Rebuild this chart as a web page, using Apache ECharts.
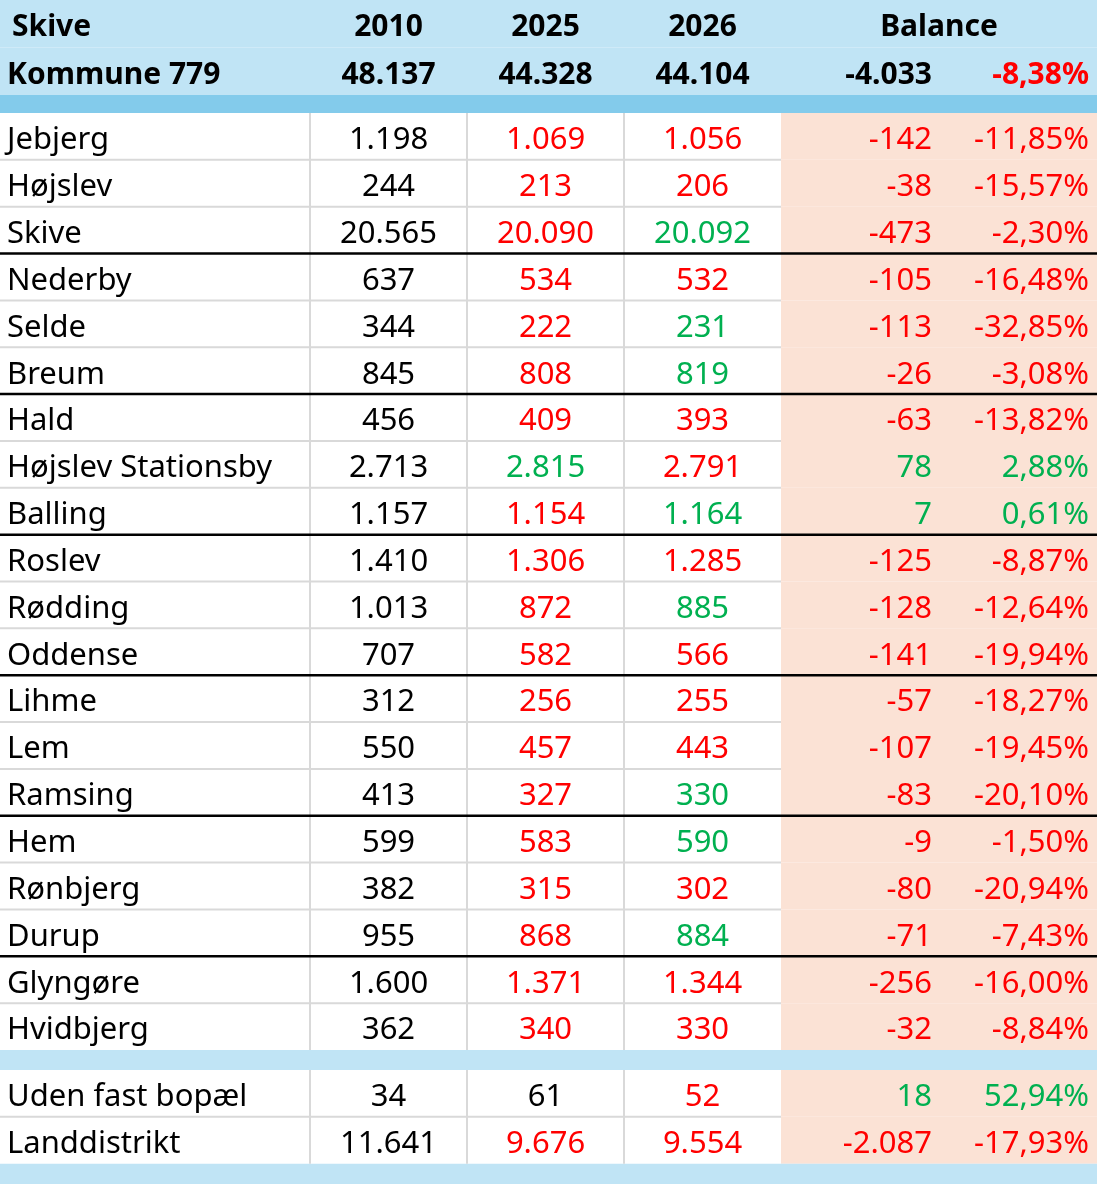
<!DOCTYPE html>
<html>
<head>
<meta charset="utf-8">
<style>
  html, body { margin: 0; padding: 0; background: #fff; }
  #chart { width: 1097px; height: 1184px; }
</style>
<script src="https://cdn.jsdelivr.net/npm/echarts@6/dist/echarts.min.js"></script>
</head>
<body>
<div id="chart"></div>
<script>
// header
const headTitle = ['Skive', 'Kommune 779'];
const headYears = ['2010', '2025', '2026'];
const headBalance = 'Balance';
const headTotals = [48137, 44328, 44104];
const headTotalBalance = -4033;
const headTotalPct = -8.38;

// towns, the last two are the extra section below the band
const towns = ['Jebjerg', 'Højslev', 'Skive', 'Nederby', 'Selde', 'Breum', 'Hald',
  'Højslev Stationsby', 'Balling', 'Roslev', 'Rødding', 'Oddense', 'Lihme', 'Lem',
  'Ramsing', 'Hem', 'Rønbjerg', 'Durup', 'Glyngøre', 'Hvidbjerg',
  'Uden fast bopæl', 'Landdistrikt'];
const pop2010 = [1198, 244, 20565, 637, 344, 845, 456, 2713, 1157, 1410, 1013, 707,
  312, 550, 413, 599, 382, 955, 1600, 362, 34, 11641];
const pop2025 = [1069, 213, 20090, 534, 222, 808, 409, 2815, 1154, 1306, 872, 582,
  256, 457, 327, 583, 315, 868, 1371, 340, 61, 9676];
const pop2026 = [1056, 206, 20092, 532, 231, 819, 393, 2791, 1164, 1285, 885, 566,
  255, 443, 330, 590, 302, 884, 1344, 330, 52, 9554];
const balance = [-142, -38, -473, -105, -113, -26, -63, 78, 7, -125, -128, -141,
  -57, -107, -83, -9, -80, -71, -256, -32, 18, -2087];
const balancePct = [-11.85, -15.57, -2.30, -16.48, -32.85, -3.08, -13.82, 2.88, 0.61,
  -8.87, -12.64, -19.94, -18.27, -19.45, -20.10, -1.50, -20.94, -7.43, -16.00, -8.84,
  52.94, -17.93];
// text colour as shown: r = red, g = green, k = black
const tone2025 = ['r', 'r', 'r', 'r', 'r', 'r', 'r', 'g', 'r', 'r', 'r', 'r',
  'r', 'r', 'r', 'r', 'r', 'r', 'r', 'r', 'k', 'r'];
const tone2026 = ['r', 'r', 'g', 'r', 'g', 'g', 'r', 'r', 'g', 'r', 'g', 'r',
  'r', 'r', 'g', 'g', 'r', 'g', 'r', 'r', 'r', 'r'];
// rows per group in the main section, then rows in the extra section
const mainGroups = [3, 3, 3, 3, 3, 3, 2];
const extraCount = 2;

// ---- layout ----
const COLORS = { r: '#FF0000', g: '#00B050', k: '#000000' };
const HEAD_BG = '#C0E4F5';
const DARK_BAND = '#83CBEB';
const SALMON = '#FBE2D5';
const GRID = '#D9D9D9';
const FONT = '"Noto Sans", sans-serif';

const colW = [310, 157, 157, 157, 157, 159];
const xEdges = [0];
colW.forEach(w => xEdges.push(xEdges[xEdges.length - 1] + w));

const rows = [];
rows.push({ kind: 'head', idx: 0, h: 47.5 });
rows.push({ kind: 'head', idx: 1, h: 47.5 });
rows.push({ kind: 'band', dark: true, h: 18 });
let t = 0;
mainGroups.forEach((n, g) => {
  for (let k = 0; k < n; k++) {
    rows.push({
      kind: 'data', idx: t++, h: 46.85,
      groupEnd: k === n - 1, sectionEnd: g === mainGroups.length - 1 && k === n - 1
    });
  }
});
rows.push({ kind: 'band', h: 20 });
for (let k = 0; k < extraCount; k++) {
  rows.push({ kind: 'data', idx: t++, h: 46.85, groupEnd: false, sectionEnd: k === extraCount - 1 });
}
rows.push({ kind: 'band', h: 20.3 });

const yEdges = [0];
rows.forEach(r => yEdges.push(yEdges[yEdges.length - 1] + r.h));

function fmtInt(n) {
  const s = Math.abs(n).toString().replace(/\B(?=(\d{3})+(?!\d))/g, '.');
  return (n < 0 ? '-' : '') + s;
}
function fmtPct(n) {
  return n.toFixed(2).replace('.', ',') + '%';
}

function txt(text, x, y, align, color, bold, size) {
  return {
    type: 'text',
    z2: 10,
    style: {
      text: text, x: x, y: y, align: align, verticalAlign: 'middle',
      fill: color, font: (bold ? 'bold ' : 'normal ') + size + 'px ' + FONT
    }
  };
}

function renderRow(params, api) {
  const i = api.value(2);
  const r = rows[i];
  const top = api.coord([0, yEdges[i]])[1];
  const bot = api.coord([0, yEdges[i + 1]])[1];
  const xs = xEdges.map(x => api.coord([x, 0])[0]);
  const mid = (top + bot) / 2 + 4;
  const kids = [];

  if (r.kind === 'band') {
    kids.push({ type: 'rect', shape: { x: xs[0], y: top, width: xs[6] - xs[0], height: bot - top },
      style: { fill: r.dark ? DARK_BAND : HEAD_BG } });
  } else if (r.kind === 'head') {
    kids.push({ type: 'rect', shape: { x: xs[0], y: top, width: xs[6] - xs[0], height: bot - top },
      style: { fill: HEAD_BG } });
    const sz = 30;
    kids.push(txt(headTitle[r.idx], xs[0] + (r.idx === 0 ? 12 : 7), mid, 'left', '#000', true, sz));
    for (let c = 0; c < 3; c++) {
      const label = r.idx === 0 ? headYears[c] : fmtInt(headTotals[c]);
      kids.push(txt(label, (xs[c + 1] + xs[c + 2]) / 2, mid, 'center', '#000', true, sz));
    }
    if (r.idx === 0) {
      kids.push(txt(headBalance, (xs[4] + xs[6]) / 2, mid, 'center', '#000', true, sz));
    } else {
      kids.push(txt(fmtInt(headTotalBalance), xs[5] - 6, mid, 'right', '#000', true, sz));
      kids.push(txt(fmtPct(headTotalPct), xs[6] - 8, mid, 'right',
        headTotalPct < 0 ? COLORS.r : COLORS.g, true, sz));
    }
  } else {
    const d = r.idx;
    kids.push({ type: 'rect', shape: { x: xs[0], y: top, width: xs[4] - xs[0], height: bot - top },
      style: { fill: '#fff' } });
    kids.push({ type: 'rect', shape: { x: xs[4], y: top, width: xs[6] - xs[4], height: bot - top },
      style: { fill: SALMON } });
    // vertical grid lines
    for (let c = 1; c <= 3; c++) {
      kids.push({ type: 'line', z2: 2, shape: { x1: xs[c], y1: top, x2: xs[c], y2: bot },
        style: { stroke: GRID, lineWidth: 2 } });
    }
    // bottom border
    if (r.groupEnd && !r.sectionEnd) {
      kids.push({ type: 'line', z2: 5, shape: { x1: xs[0], y1: bot, x2: xs[6], y2: bot },
        style: { stroke: '#000', lineWidth: 2.5 } });
    } else if (!r.sectionEnd) {
      kids.push({ type: 'line', z2: 2, shape: { x1: xs[0], y1: bot, x2: xs[4], y2: bot },
        style: { stroke: GRID, lineWidth: 2 } });
    }
    const sz = 31;
    const bTone = balance[d] >= 0 ? COLORS.g : COLORS.r;
    kids.push(txt(towns[d], xs[0] + 7, mid, 'left', '#000', false, sz));
    kids.push(txt(fmtInt(pop2010[d]), (xs[1] + xs[2]) / 2, mid, 'center', '#000', false, sz));
    kids.push(txt(fmtInt(pop2025[d]), (xs[2] + xs[3]) / 2, mid, 'center', COLORS[tone2025[d]], false, sz));
    kids.push(txt(fmtInt(pop2026[d]), (xs[3] + xs[4]) / 2, mid, 'center', COLORS[tone2026[d]], false, sz));
    kids.push(txt(fmtInt(balance[d]), xs[5] - 6, mid, 'right', bTone, false, sz));
    kids.push(txt(fmtPct(balancePct[d]), xs[6] - 8, mid, 'right', bTone, false, sz));
  }
  return { type: 'group', children: kids };
}

const chart = echarts.init(document.getElementById('chart'), null, { renderer: 'canvas' });
chart.setOption({
  animation: false,
  backgroundColor: '#fff',
  grid: { left: 0, right: 0, top: 0, bottom: 0 },
  xAxis: { type: 'value', min: 0, max: xEdges[xEdges.length - 1], show: false },
  yAxis: { type: 'value', min: 0, max: yEdges[yEdges.length - 1], inverse: true, show: false },
  series: [{
    type: 'custom',
    renderItem: renderRow,
    encode: { x: 0, y: 1 },
    clip: false,
    data: rows.map((r, i) => [0, yEdges[i], i])
  }]
});
</script>
</body>
</html>
